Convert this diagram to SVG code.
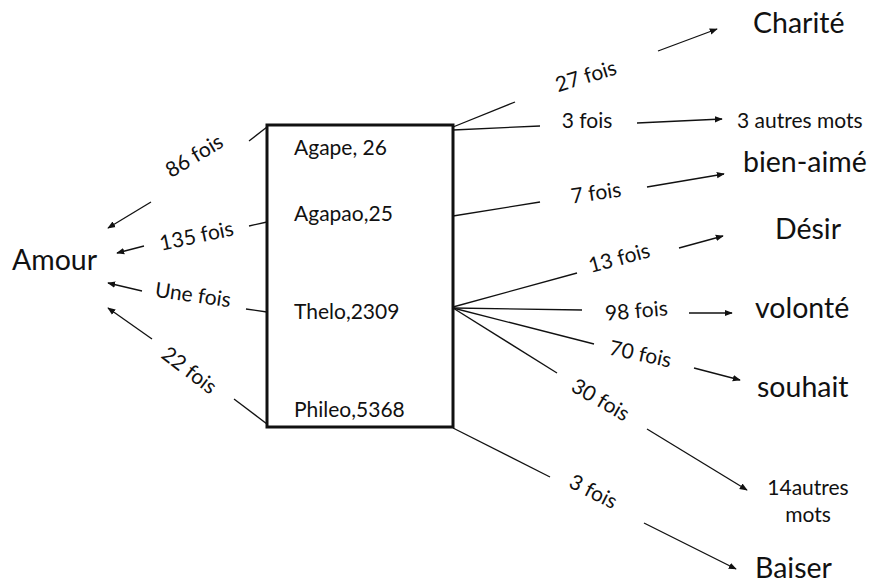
<svg xmlns="http://www.w3.org/2000/svg" width="876" height="584" viewBox="0 0 876 584">
<style>
text{font-family:Lato,"Liberation Sans",sans-serif;fill:#111}
.s{font-size:21px}
.b{font-size:28.5px}
.l{stroke:#111;stroke-width:1.3;fill:none}
.a{stroke:#111;stroke-width:1.3;fill:none;marker-end:url(#ah)}
</style>
<defs>
<marker id="ah" viewBox="0 0 10 10" refX="9" refY="5" markerWidth="8" markerHeight="8" markerUnits="userSpaceOnUse" orient="auto">
<path d="M0,1 L10,5 L0,9 z" fill="#111"/>
</marker>
</defs>
<rect width="876" height="584" fill="#fff"/>
<g id="box">
<rect x="267" y="125" width="186" height="302" fill="none" stroke="#111" stroke-width="3"/>
<text class="s" x="294" y="155">Agape, 26</text>
<text class="s" x="294" y="221">Agapao,25</text>
<text class="s" x="294" y="319">Thelo,2309</text>
<text class="s" x="294" y="417">Phileo,5368</text>
</g>
<g id="amour"><text class="b" x="12" y="270">Amour</text></g>
<g id="charite"><text class="b" x="753" y="33">Charité</text></g>
<g id="autres3"><text class="s" x="737" y="128">3 autres mots</text></g>
<g id="bienaime"><text class="b" x="743" y="172">bien-aimé</text></g>
<g id="desir"><text class="b" x="775" y="239">Désir</text></g>
<g id="volonte"><text class="b" x="755" y="318">volonté</text></g>
<g id="souhait"><text class="b" x="757" y="397">souhait</text></g>
<g id="autres14"><text class="s" x="808" y="495" text-anchor="middle">14autres</text><text class="s" x="808" y="522" text-anchor="middle">mots</text></g>
<g id="baiser"><text class="b" x="755" y="578">Baiser</text></g>
<g id="connectors">
<line class="l" x1="267" y1="127" x2="249" y2="141"/>
<line class="a" x1="151" y1="202" x2="108" y2="228"/>
<line class="l" x1="267" y1="222" x2="249" y2="226"/>
<line class="a" x1="144" y1="246" x2="117" y2="253"/>
<line class="l" x1="267" y1="312" x2="246" y2="309"/>
<line class="a" x1="142" y1="291" x2="108" y2="283"/>
<line class="l" x1="267" y1="424" x2="234" y2="399"/>
<line class="a" x1="152" y1="339" x2="108" y2="308"/>
<line class="l" x1="453" y1="127" x2="515" y2="102"/>
<line class="a" x1="658" y1="51" x2="717" y2="29"/>
<line class="l" x1="453" y1="130" x2="540" y2="126"/>
<line class="a" x1="637" y1="123" x2="722" y2="119"/>
<line class="l" x1="453" y1="216" x2="540" y2="202"/>
<line class="a" x1="647" y1="187" x2="724" y2="174"/>
<line class="l" x1="453" y1="307" x2="577" y2="273"/>
<line class="a" x1="679" y1="248" x2="723" y2="236"/>
<line class="l" x1="453" y1="308" x2="582" y2="310"/>
<line class="a" x1="689" y1="313" x2="732" y2="313"/>
<line class="l" x1="453" y1="308" x2="594" y2="344"/>
<line class="a" x1="694" y1="368" x2="740" y2="380"/>
<line class="l" x1="453" y1="308" x2="557" y2="373"/>
<line class="a" x1="647" y1="429" x2="747" y2="490"/>
<line class="l" x1="453" y1="428" x2="550" y2="477"/>
<line class="a" x1="644" y1="523" x2="736" y2="569"/>
</g>
<g id="labels">
<text class="s" text-anchor="middle" transform="translate(198,162) rotate(-31)">86 fois</text>
<text class="s" text-anchor="middle" transform="translate(198,243) rotate(-12)">135 fois</text>
<text class="s" text-anchor="middle" transform="translate(192,302) rotate(8)">Une fois</text>
<text class="s" text-anchor="middle" transform="translate(185,376) rotate(37)">22 fois</text>
<text class="s" text-anchor="middle" transform="translate(588,83) rotate(-17)">27 fois</text>
<text class="s" text-anchor="middle" x="587" y="128">3 fois</text>
<text class="s" text-anchor="middle" transform="translate(597,200) rotate(-8)">7 fois</text>
<text class="s" text-anchor="middle" transform="translate(621,265) rotate(-15)">13 fois</text>
<text class="s" text-anchor="middle" transform="translate(637,318) rotate(-5)">98 fois</text>
<text class="s" text-anchor="middle" transform="translate(639,361) rotate(12)">70 fois</text>
<text class="s" text-anchor="middle" transform="translate(597,406) rotate(30)">30 fois</text>
<text class="s" text-anchor="middle" transform="translate(590,498) rotate(27)">3 fois</text>
</g>
</svg>
